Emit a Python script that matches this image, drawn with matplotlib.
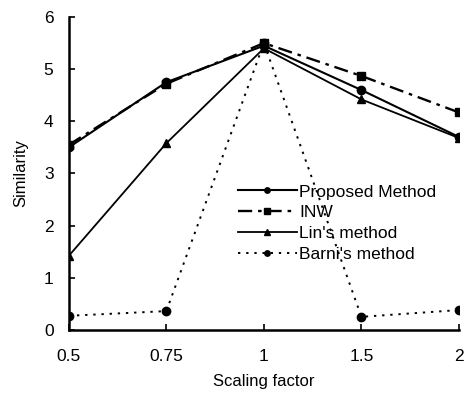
import matplotlib
matplotlib.use("Agg")
import matplotlib.pyplot as plt

plt.rcParams['font.family'] = ['Liberation Sans', 'DejaVu Sans']

categories = ["0.5", "0.75", "1", "1.5", "2"]
proposed = [3.5, 4.75, 5.45, 4.6, 3.7]
inw = [3.55, 4.72, 5.5, 4.87, 4.17]
lin = [1.42, 3.58, 5.4, 4.42, 3.68]
barni = [0.27, 0.36, 5.5, 0.25, 0.38]

fig = plt.figure(figsize=(4.65, 3.96), dpi=100)
ax = fig.add_axes([0.148, 0.167, 0.839, 0.79])
x = list(range(len(categories)))

ax.plot(x, proposed, '-', color='black', lw=1.5, marker='o', ms=6, label='Proposed Method')
ax.plot(x, inw, color='black', lw=1.7, linestyle=(0, (6, 2.5, 1.5, 2.5)), marker='s', ms=6, label='INW')
ax.plot(x, lin, '-', color='black', lw=1.3, marker='^', ms=6, label="Lin's method")
ax.plot(x, barni, color='black', lw=1.4, linestyle=(0, (1.2, 3)), marker='o', ms=6, label="Barni's method")

ax.set_xlim(0, len(categories) - 1)
ax.set_ylim(0, 6)
ax.set_xticks(x)
ax.set_xticklabels(categories)
ax.set_yticks(range(0, 7))
ax.spines['top'].set_visible(False)
ax.spines['right'].set_visible(False)
ax.spines['left'].set_linewidth(1.8)
ax.spines['bottom'].set_linewidth(1.8)
ax.tick_params(direction='in', length=4, width=1.2, labelsize=12.5)
ax.tick_params(axis='x', pad=14)
ax.tick_params(axis='y', pad=11)
ax.set_xlabel('Scaling factor', fontsize=12, labelpad=7)
ax.set_ylabel('Similarity', fontsize=12, labelpad=11)

leg = ax.legend(loc='upper left', bbox_to_anchor=(0.433, 0.465), frameon=False,
                fontsize=12.5, handlelength=3.4, handletextpad=0.15, labelspacing=0.33,
                borderpad=0, borderaxespad=0, markerscale=0.65)

fig.savefig('out.png', dpi=100)
